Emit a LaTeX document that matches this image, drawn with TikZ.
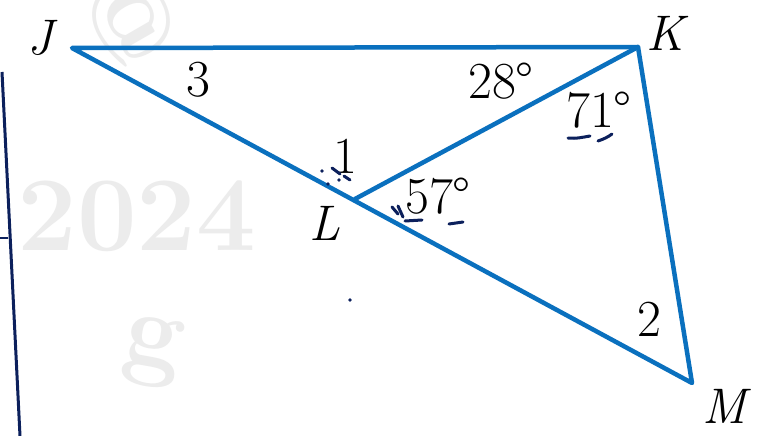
\documentclass[tikz,border=0pt]{standalone}
\usepackage{fontspec}
\setmainfont{Latin Modern Roman}
\usepackage{tikz}
\definecolor{lineblue}{RGB}{10,112,190}
\definecolor{ink}{RGB}{12,32,92}
\definecolor{wm}{RGB}{236,236,236}
\begin{document}
\begin{tikzpicture}[x=1pt,y=-1pt,
  edge/.style={draw=lineblue,line width=4.5pt,line join=round,line cap=round},
  lbl/.style={font=\fontsize{50}{60}\selectfont\itshape,inner sep=0pt},
  ang/.style={font=\fontsize{52}{60}\selectfont,inner sep=0pt},
  pen/.style={draw=ink,line width=3pt,line cap=round},
  wmark/.style={text=wm,font=\fontsize{106}{110}\selectfont\bfseries,inner sep=0pt}]
\useasboundingbox (0,0) rectangle (766,436);
\fill[white] (0,0) rectangle (766,436);
% watermark
\node[wmark] (wm1) at (137,216) {2024};
\node[wmark,rotate=-60] (wm2) at (132,18) {@};
\node[wmark,rotate=-10] (wm3) at (152,352) {g};
% left margin line
\coordinate (la) at (2,72);
\coordinate (lb) at (20,436);
\draw[draw=ink,line width=3pt] (la) -- (lb);
\coordinate (ta) at (0,238);
\coordinate (tb) at (8,238);
\draw[draw=ink,line width=2pt] (ta) -- (tb);
% vertices
\coordinate (J) at (72,48);
\coordinate (K) at (638,47);
\coordinate (L) at (355,199);
\coordinate (M) at (692,383);
\draw[edge] (J) -- (K) -- (M) -- cycle;
\draw[edge] (K) -- (L);
% labels
\node[lbl] (tJ) at (40,38) {J};
\node[lbl] (tK) at (665,33) {K};
\node[lbl] (tL) at (325,223) {L};
\node[lbl] (tM) at (724,406) {M};
\node[ang] (a3) at (198,80) {3};
\node[ang] (a28) at (501,81) {28°};
\node[ang] (a71) at (599,110) {71°};
\node[ang] (a1) at (345,156) {1};
\node[ang] (a57) at (438,196) {57°};
\node[ang] (a2) at (649,319) {2};
% handwritten marks
\fill[ink] (322,171) circle (1.8pt);
\fill[ink] (328,184) circle (1.8pt);
\fill[ink] (339,180) circle (1.8pt);
\fill[ink] (350,300) circle (1.8pt);
\draw[pen] (332,168) -- (340,174);
\draw[pen] (344,176) -- (350,180);
\draw[pen] (392,207) -- (398,214);
\draw[pen] (398,206) -- (403,217);
\draw[pen] (405,221) -- (422,220);
\draw[pen] (449,224) -- (463,222);
\draw[pen] (568,138) .. controls (576,139) and (584,137) .. (590,136);
\draw[pen] (598,141) .. controls (604,139) and (608,137) .. (612,134);
\end{tikzpicture}
\end{document}
